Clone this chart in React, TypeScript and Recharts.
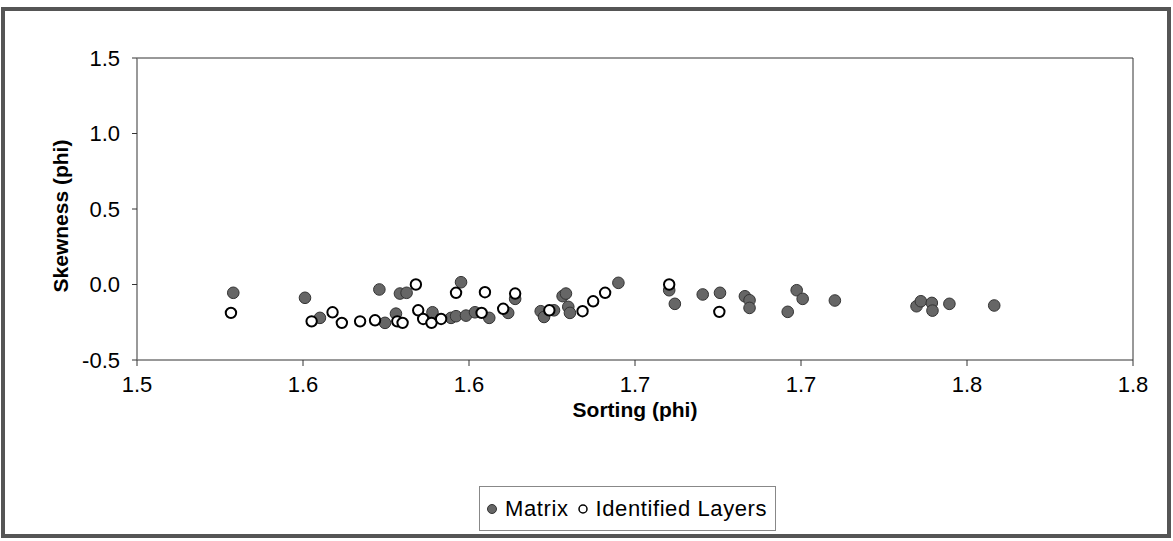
import React from 'react';
import { ScatterChart, Scatter, XAxis, YAxis, ReferenceLine, Legend } from 'recharts';

// Matrix series (filled markers)
const matrixSorting = [
  1.529, 1.5506, 1.5551, 1.573, 1.5747, 1.578, 1.5792, 1.5812, 1.589, 1.5946,
  1.5961, 1.5976, 1.5991, 1.6018, 1.6061, 1.6118, 1.6139, 1.6216, 1.6226, 1.6256,
  1.6282, 1.6292, 1.6299, 1.6304, 1.645, 1.6603, 1.662, 1.6704, 1.6756, 1.6831,
  1.6845, 1.6845, 1.696, 1.6987, 1.7005, 1.7102, 1.7348, 1.7361, 1.7394, 1.7396,
  1.7447, 1.7582,
];
const matrixSkewness = [
  -0.055, -0.088, -0.221, -0.033, -0.254, -0.193, -0.06, -0.055, -0.184, -0.221,
  -0.21, 0.015, -0.206, -0.184, -0.221, -0.188, -0.095, -0.177, -0.215, -0.171,
  -0.077, -0.06, -0.148, -0.188, 0.011, -0.038, -0.128, -0.066, -0.055, -0.078,
  -0.104, -0.155, -0.181, -0.038, -0.095, -0.106, -0.144, -0.111, -0.122, -0.173,
  -0.128, -0.139,
];

// Identified Layers series (open markers)
const layersSorting = [
  1.5283, 1.5526, 1.5589, 1.5617, 1.5672, 1.5717, 1.5784, 1.58, 1.584, 1.5847,
  1.5862, 1.5887, 1.5916, 1.5961, 1.6038, 1.6048, 1.6103, 1.6139, 1.6242, 1.6342,
  1.6374, 1.641, 1.6603, 1.6754,
];
const layersSkewness = [
  -0.188, -0.244, -0.184, -0.254, -0.244, -0.237, -0.244, -0.254, 0.0, -0.171,
  -0.228, -0.254, -0.228, -0.055, -0.188, -0.051, -0.161, -0.06, -0.171, -0.177,
  -0.111, -0.055, 0.0, -0.181,
];

const xTicks = [1.5, 1.55, 1.6, 1.65, 1.7, 1.75, 1.8];
const xTickLabels = ['1.5', '1.6', '1.6', '1.7', '1.7', '1.8', '1.8'];
const yTicks = [-0.5, 0, 0.5, 1.0, 1.5];
const yTickLabels = ['-0.5', '0.0', '0.5', '1.0', '1.5'];

const seriesNames = ['Matrix', 'Identified Layers'];

const matrixData = matrixSorting.map((x, i) => ({ x, y: matrixSkewness[i] }));
const layersData = layersSorting.map((x, i) => ({ x, y: layersSkewness[i] }));

const FONT = '"Liberation Sans", Arial, sans-serif';

const FilledDot = (props: any) => {
  const { cx, cy } = props;
  if (cx == null || cy == null) return null;
  return <circle cx={cx} cy={cy} r={5.8} fill="#666" stroke="#333" strokeWidth={1} />;
};

const OpenDot = (props: any) => {
  const { cx, cy } = props;
  if (cx == null || cy == null) return null;
  return <circle cx={cx} cy={cy} r={5.2} fill="#fff" stroke="#000" strokeWidth={2} />;
};

const LegendContent = () => (
  <div
    style={{
      border: '1px solid #888',
      background: '#fff',
      display: 'flex',
      alignItems: 'center',
      height: 45,
      boxSizing: 'border-box',
      padding: '0 8px 0 6px',
      fontFamily: FONT,
      fontSize: 22,
      letterSpacing: 0.6,
      color: '#000',
      whiteSpace: 'nowrap',
    }}
  >
    <svg width={12} height={12} style={{ marginRight: 7 }}>
      <circle cx={6} cy={6} r={4.5} fill="#666" stroke="#333" strokeWidth={1} />
    </svg>
    <span style={{ marginRight: 8 }}>{seriesNames[0]}</span>
    <svg width={12} height={12} style={{ marginRight: 7 }}>
      <circle cx={6} cy={6} r={4} fill="#fff" stroke="#000" strokeWidth={1.5} />
    </svg>
    <span>{seriesNames[1]}</span>
  </div>
);

export default function App() {
  return (
    <div style={{ position: 'absolute', left: 0, top: 0, width: 1173, height: 541, background: '#fff' }}>
      <div
        style={{
          position: 'absolute',
          left: 1,
          top: 7,
          width: 1170,
          height: 531,
          border: '4px solid #555',
          boxSizing: 'border-box',
        }}
      />
      <div style={{ position: 'absolute', left: 0, top: 0 }}>
        <ScatterChart width={1173} height={541} margin={{ top: 58, right: 40, left: 0, bottom: 141 }}>
          <XAxis
            type="number"
            dataKey="x"
            domain={[1.5, 1.8]}
            ticks={xTicks}
            interval={0}
            allowDataOverflow
            height={40}
            tickSize={6}
            tickMargin={10}
            tickFormatter={(v: number) => {
              const idx = xTicks.findIndex((t) => Math.abs(t - v) < 1e-9);
              return idx >= 0 ? xTickLabels[idx] : String(v);
            }}
            tick={{ fontSize: 22, fill: '#000', fontFamily: FONT }}
            axisLine={{ stroke: '#333', strokeWidth: 1 }}
            tickLine={{ stroke: '#333' }}
            label={{
              value: 'Sorting (phi)',
              position: 'bottom',
              offset: 2,
              style: { fontSize: 21, fontWeight: 'bold', fill: '#000', fontFamily: FONT },
            }}
          />
          <YAxis
            type="number"
            dataKey="y"
            domain={[-0.5, 1.5]}
            ticks={yTicks}
            interval={0}
            allowDataOverflow
            width={137}
            tickSize={5}
            tickMargin={12}
            tickFormatter={(v: number) => {
              const idx = yTicks.findIndex((t) => Math.abs(t - v) < 1e-9);
              return idx >= 0 ? yTickLabels[idx] : String(v);
            }}
            tick={{ fontSize: 22, fill: '#000', fontFamily: FONT }}
            axisLine={{ stroke: '#777', strokeWidth: 1.5 }}
            tickLine={{ stroke: '#333' }}
            label={{
              content: (p: any) => {
                const vb = p.viewBox || { x: 0, y: 0, width: 0, height: 0 };
                const cx = vb.x + 60;
                const cy = vb.y + vb.height / 2 + 7;
                return (
                  <text
                    x={cx}
                    y={cy}
                    transform={`rotate(-90 ${cx} ${cy})`}
                    textAnchor="middle"
                    dominantBaseline="central"
                    fontSize={21}
                    fontWeight="bold"
                    fill="#000"
                    fontFamily={FONT}
                  >
                    Skewness (phi)
                  </text>
                );
              },
            }}
          />
          <ReferenceLine y={1.5} stroke="#333" strokeWidth={1} />
          <ReferenceLine x={1.8} stroke="#333" strokeWidth={1} />
          <Legend
            layout="horizontal"
            verticalAlign="middle"
            align="center"
            content={<LegendContent />}
            wrapperStyle={{ position: 'absolute', left: 479, top: 486, width: 'auto', height: 'auto' }}
          />
          <Scatter name={seriesNames[0]} data={matrixData} shape={<FilledDot />} isAnimationActive={false} />
          <Scatter name={seriesNames[1]} data={layersData} shape={<OpenDot />} isAnimationActive={false} />
        </ScatterChart>
      </div>
    </div>
  );
}
